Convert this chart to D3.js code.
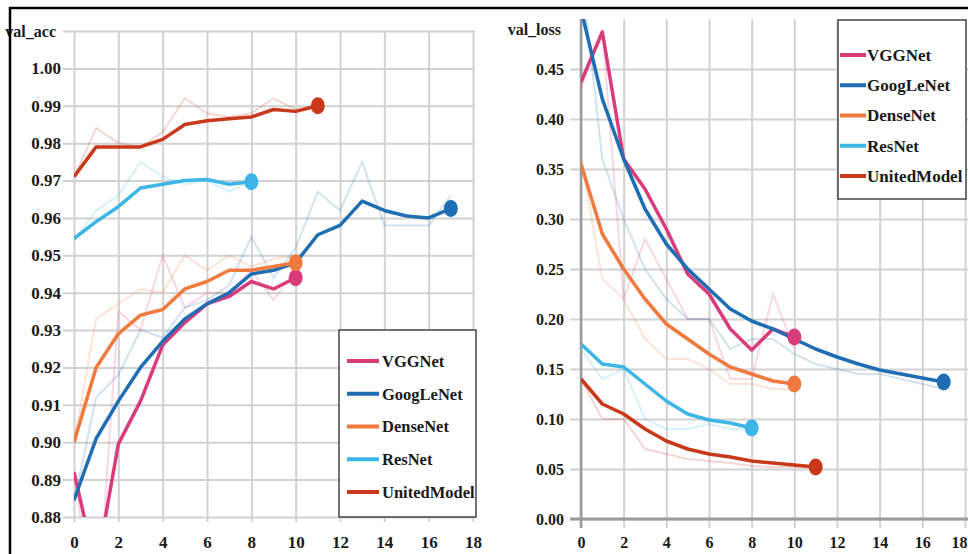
<!DOCTYPE html>
<html>
<head>
<meta charset="utf-8">
<script src="https://cdn.jsdelivr.net/npm/d3@7"></script>
<style>
  body { margin: 0; background: #fff; }
  text { font-family: "Liberation Serif", "Times New Roman", serif; font-weight: bold; fill: #1a1a1a; }
</style>
</head>
<body>
<svg id="chart" width="968" height="554"></svg>
<script>
// model names and colours
const models = ['VGGNet', 'GoogLeNet', 'DenseNet', 'ResNet', 'UnitedModel'];
const colors = ['#d83c7b', '#1f6db3', '#f07a3e', '#3cb6e6', '#c8391c'];
const xTicks = [0, 2, 4, 6, 8, 10, 12, 14, 16, 18];

// val_acc, smoothed (index = epoch)
const accVGG = [0.892, 0.866, 0.8995, 0.911, 0.926, 0.932, 0.937, 0.939, 0.943, 0.941, 0.944];
const accGoogLeNet = [0.8845, 0.901, 0.911, 0.920, 0.927, 0.933, 0.937, 0.940, 0.945, 0.946, 0.948, 0.9555, 0.958, 0.9645, 0.962, 0.9605, 0.960, 0.9625];
const accDenseNet = [0.900, 0.920, 0.929, 0.934, 0.9355, 0.941, 0.943, 0.946, 0.946, 0.947, 0.948];
const accResNet = [0.9545, 0.959, 0.963, 0.968, 0.969, 0.970, 0.9703, 0.969, 0.9697];
const accUnited = [0.971, 0.979, 0.979, 0.979, 0.981, 0.985, 0.986, 0.9865, 0.987, 0.989, 0.9885, 0.990];
// val_acc, raw
const accVGGRaw = [0.892, 0.850, 0.935, 0.930, 0.950, 0.936, 0.940, 0.940, 0.946, 0.938, 0.946];
const accGoogLeNetRaw = [0.884, 0.912, 0.918, 0.930, 0.928, 0.936, 0.938, 0.942, 0.955, 0.944, 0.952, 0.967, 0.962, 0.975, 0.958, 0.958, 0.958, 0.966];
const accDenseNetRaw = [0.900, 0.933, 0.937, 0.941, 0.940, 0.950, 0.946, 0.950, 0.947, 0.949, 0.950];
const accResNetRaw = [0.954, 0.962, 0.966, 0.975, 0.971, 0.969, 0.970, 0.967, 0.970];
const accUnitedRaw = [0.971, 0.984, 0.980, 0.979, 0.983, 0.992, 0.988, 0.987, 0.988, 0.992, 0.989, 0.990];
const accTicks = [0.88, 0.89, 0.90, 0.91, 0.92, 0.93, 0.94, 0.95, 0.96, 0.97, 0.98, 0.99, 1.00, 1.01];

// val_loss, smoothed
const lossVGG = [0.437, 0.487, 0.36, 0.33, 0.29, 0.245, 0.225, 0.19, 0.169, 0.19, 0.182];
const lossGoogLeNet = [0.51, 0.42, 0.36, 0.31, 0.275, 0.25, 0.23, 0.21, 0.198, 0.19, 0.18, 0.17, 0.162, 0.155, 0.149, 0.145, 0.141, 0.137];
const lossDenseNet = [0.355, 0.285, 0.25, 0.22, 0.195, 0.18, 0.165, 0.152, 0.145, 0.138, 0.135];
const lossResNet = [0.175, 0.155, 0.152, 0.135, 0.118, 0.105, 0.099, 0.096, 0.091];
const lossUnited = [0.14, 0.115, 0.105, 0.09, 0.078, 0.07, 0.065, 0.062, 0.058, 0.056, 0.054, 0.052];
// val_loss, raw
const lossVGGRaw = [0.43, 0.49, 0.22, 0.28, 0.24, 0.20, 0.20, 0.14, 0.14, 0.225, 0.17];
const lossGoogLeNetRaw = [0.55, 0.36, 0.30, 0.25, 0.22, 0.20, 0.20, 0.17, 0.18, 0.18, 0.165, 0.155, 0.15, 0.145, 0.145, 0.14, 0.135, 0.13];
const lossDenseNetRaw = [0.36, 0.24, 0.22, 0.18, 0.16, 0.16, 0.15, 0.135, 0.135, 0.13, 0.13];
const lossResNetRaw = [0.17, 0.14, 0.15, 0.10, 0.09, 0.09, 0.095, 0.09, 0.09];
const lossUnitedRaw = [0.14, 0.10, 0.10, 0.07, 0.065, 0.06, 0.058, 0.056, 0.053, 0.052, 0.052, 0.051];
const lossTicks = [0, 0.05, 0.10, 0.15, 0.20, 0.25, 0.30, 0.35, 0.40, 0.45];

const svg = d3.select('#chart');

function drawPanel(p) {
  const g = svg.append('g');
  const x = d3.scaleLinear().domain([0, 18]).range(p.xRange);
  const y = d3.scaleLinear().domain(p.yDomain).range(p.yRange);

  // horizontal grid + y labels
  g.append('g')
    .attr('transform', `translate(${p.gridLeft},0)`)
    .call(d3.axisLeft(y).tickValues(p.yTicks)
      .tickSize(-(p.gridRight - p.gridLeft))
      .tickPadding(p.yPad)
      .tickFormat(d => (p.hideTop && d === p.yTicks[p.yTicks.length - 1]) ? '' : d3.format('.2f')(d)))
    .call(a => a.select('.domain').remove())
    .call(a => a.selectAll('line').attr('stroke', '#d2d2d2').attr('stroke-width', 2))
    .call(a => a.selectAll('text').style('font-size', p.fs + 'px').attr('fill', '#1a1a1a'));

  // vertical grid + x labels
  g.append('g')
    .attr('transform', `translate(0,${p.gridBottom})`)
    .call(d3.axisBottom(x).tickValues(xTicks)
      .tickSize(-(p.gridBottom - p.yRange[1]))
      .tickPadding(p.xPad))
    .call(a => a.select('.domain').remove())
    .call(a => a.selectAll('line').attr('stroke', '#d2d2d2').attr('stroke-width', 2))
    .call(a => a.selectAll('text').style('font-size', p.fs + 'px').attr('fill', '#1a1a1a'))
    // keep the last label inside the page when the panel reaches the edge
    .call(a => { if (p.lastLabelEnd) a.selectAll('.tick:last-of-type text').attr('text-anchor', 'end').attr('x', 967 - x(18)); });

  if (p.axisLines) {
    g.append('line').attr('x1', p.gridLeft).attr('x2', p.gridRight)
      .attr('y1', y(p.yDomain[0])).attr('y2', y(p.yDomain[0]))
      .attr('stroke', '#9a9a9a').attr('stroke-width', 3);
    g.append('line').attr('x1', x(0)).attr('x2', x(0))
      .attr('y1', p.yRange[1]).attr('y2', p.gridBottom)
      .attr('stroke', '#9a9a9a').attr('stroke-width', 2.5);
  }

  // axis title
  g.append('text').attr('x', p.titleX).attr('y', p.titleY)
    .attr('text-anchor', 'end').attr('dy', '0.35em')
    .style('font-size', '16px').text(p.title);

  const clipId = 'clip' + p.title;
  svg.append('clipPath').attr('id', clipId).append('rect')
    .attr('x', x(0)).attr('y', p.yRange[1])
    .attr('width', x(18) - x(0) + 10).attr('height', p.yRange[0] - p.yRange[1]);

  const line = d3.line().x((d, i) => x(i)).y(d => y(d));
  const lines = g.append('g').attr('clip-path', `url(#${clipId})`);

  lines.selectAll('.raw').data(p.raw).join('path')
    .attr('class', 'raw')
    .attr('d', line)
    .attr('fill', 'none')
    .attr('stroke', (d, i) => colors[i])
    .attr('stroke-opacity', 0.2)
    .attr('stroke-width', 2);

  lines.selectAll('.smooth').data(p.smooth).join('path')
    .attr('class', 'smooth')
    .attr('d', line)
    .attr('fill', 'none')
    .attr('stroke', (d, i) => colors[i])
    .attr('stroke-width', 3.5)
    .attr('stroke-linejoin', 'round');

  g.selectAll('.dot').data(p.smooth).join('ellipse')
    .attr('class', 'dot')
    .attr('cx', d => x(d.length - 1))
    .attr('cy', d => y(d[d.length - 1]))
    .attr('rx', 7).attr('ry', 8.5)
    .attr('fill', (d, i) => colors[i]);

  // legend
  const lg = g.append('g');
  lg.append('rect').attr('x', p.legend.x).attr('y', p.legend.y)
    .attr('width', p.legend.w).attr('height', p.legend.h)
    .attr('fill', '#fff').attr('stroke', '#444').attr('stroke-width', 1.5);
  const row = d3.scalePoint().domain(models)
    .range([p.legend.y + p.legend.first, p.legend.y + p.legend.last]);
  const items = lg.selectAll('.item').data(models).join('g').attr('class', 'item')
    .attr('transform', d => `translate(${p.legend.x},${row(d)})`);
  items.append('line').attr('x1', p.legend.lx1).attr('x2', p.legend.lx2)
    .attr('stroke', (d, i) => colors[i]).attr('stroke-width', 4);
  items.append('text').attr('x', p.legend.tx).attr('dy', '0.35em')
    .style('font-size', p.legend.fs + 'px').text(d => d);
}

drawPanel({
  title: 'val_acc', titleX: 56, titleY: 31,
  xRange: [74, 473], yDomain: [0.88, 1.01], yRange: [517, 31],
  yTicks: accTicks, hideTop: true, fs: 17, yPad: 2, xPad: 14,
  gridLeft: 63, gridRight: 475, gridBottom: 522, axisLines: false,
  smooth: [accVGG, accGoogLeNet, accDenseNet, accResNet, accUnited],
  raw: [accVGGRaw, accGoogLeNetRaw, accDenseNetRaw, accResNetRaw, accUnitedRaw],
  legend: { x: 339, y: 330, w: 137, h: 187, first: 31, last: 162, lx1: 8, lx2: 40, tx: 43, fs: 16.5 }
});

drawPanel({
  title: 'val_loss', titleX: 561, titleY: 29,
  xRange: [581, 965], yDomain: [0, 0.5], yRange: [519, 19],
  yTicks: lossTicks, hideTop: false, fs: 16, yPad: 6, xPad: 9, lastLabelEnd: true,
  gridLeft: 570, gridRight: 968, gridBottom: 528, axisLines: true,
  smooth: [lossVGG, lossGoogLeNet, lossDenseNet, lossResNet, lossUnited],
  raw: [lossVGGRaw, lossGoogLeNetRaw, lossDenseNetRaw, lossResNetRaw, lossUnitedRaw],
  legend: { x: 838, y: 20, w: 128, h: 179, first: 35, last: 156, lx1: 2, lx2: 28, tx: 29, fs: 17 }
});

// outer frame (top and left edges)
svg.append('path').attr('d', 'M10,554V8H968')
  .attr('fill', 'none').attr('stroke', '#000').attr('stroke-width', 2.5);
</script>
</body>
</html>
